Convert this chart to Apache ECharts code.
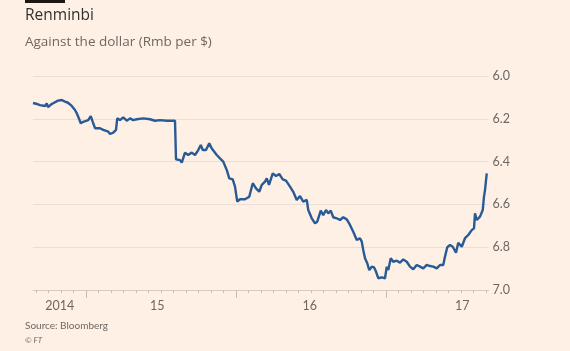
<!DOCTYPE html>
<html>
<head>
<meta charset="utf-8">
<script src="https://cdn.jsdelivr.net/npm/echarts@6/dist/echarts.min.js"></script>
<style>
	html, body { margin: 0; padding: 0; background: #fef0e5; }
	#echarts { width: 570px; height: 351px; }
</style>
</head>
<body>
<div id="echarts"></div>
<script>
// x = months since Jan 2014, y = Rmb per $
const monthPos = [7.76, 8.1, 8.32, 8.72, 8.86, 8.96, 9.26, 9.76, 10.06, 10.32, 10.56, 10.86, 11.12, 11.26, 11.46, 11.58, 11.78, 11.92,
	12.18, 12.38, 12.54, 12.72, 12.86, 13.12, 13.38, 13.78, 13.92, 14.18, 14.4, 14.5, 14.72, 14.98, 15.26, 15.52, 15.78, 16.06,
	16.58, 17.12, 17.52, 17.92, 18.46, 19.12, 19.2, 19.52, 19.66, 19.92, 20.18, 20.46, 20.72, 20.98, 21.18, 21.34, 21.6, 21.86,
	22.05, 22.46, 22.72, 22.98, 23.26, 23.46, 23.74, 23.92, 24.1, 24.32, 24.72, 25.06, 25.34, 25.6, 25.86, 26.06, 26.32, 26.46,
	26.64, 26.94, 27.2, 27.46, 27.74, 28.0, 28.32, 28.58, 28.86, 29.12, 29.38, 29.66, 29.78, 30.06, 30.32, 30.5, 30.78, 30.98,
	31.2, 31.38, 31.58, 31.78, 32.06, 32.32, 32.58, 32.86, 33.12, 33.38, 33.66, 33.92, 34.06, 34.18, 34.32, 34.5, 34.66, 34.86,
	35.04, 35.2, 35.38, 35.66, 35.92, 36.06, 36.18, 36.38, 36.58, 36.86, 37.12, 37.38, 37.66, 37.92, 38.18, 38.46, 38.72, 38.98,
	39.26, 39.52, 39.78, 40.06, 40.32, 40.58, 40.72, 40.9, 41.12, 41.34, 41.6, 41.78, 42.06, 42.32, 42.58, 42.86, 43.04, 43.12,
	43.26, 43.52, 43.74, 43.84, 43.92, 44.06];
const rmbPerUsd = [6.126, 6.131, 6.136, 6.14, 6.128, 6.145, 6.131, 6.115, 6.112, 6.12, 6.125, 6.14, 6.159, 6.174, 6.202, 6.221, 6.214, 6.221,
	6.206, 6.187, 6.214, 6.244, 6.252, 6.244, 6.252, 6.26, 6.271, 6.265, 6.252, 6.198, 6.206, 6.193, 6.209, 6.198, 6.206, 6.202,
	6.198, 6.202, 6.209, 6.206, 6.209, 6.209, 6.389, 6.393, 6.405, 6.358, 6.369, 6.358, 6.369, 6.346, 6.322, 6.346, 6.346, 6.314,
	6.338, 6.369, 6.385, 6.4, 6.439, 6.478, 6.483, 6.517, 6.587, 6.576, 6.576, 6.564, 6.501, 6.525, 6.541, 6.509, 6.494, 6.478,
	6.509, 6.455, 6.467, 6.458, 6.483, 6.489, 6.517, 6.541, 6.579, 6.561, 6.587, 6.579, 6.626, 6.665, 6.688, 6.681, 6.629, 6.65,
	6.626, 6.642, 6.629, 6.66, 6.665, 6.673, 6.66, 6.67, 6.696, 6.728, 6.766, 6.758, 6.774, 6.813, 6.852, 6.875, 6.907, 6.891,
	6.894, 6.914, 6.945, 6.941, 6.945, 6.891, 6.907, 6.852, 6.868, 6.863, 6.872, 6.857, 6.868, 6.891, 6.903, 6.883, 6.891, 6.899,
	6.883, 6.888, 6.891, 6.899, 6.883, 6.883, 6.844, 6.8, 6.79, 6.798, 6.826, 6.779, 6.798, 6.758, 6.743, 6.72, 6.712, 6.642,
	6.673, 6.657, 6.626, 6.564, 6.533, 6.455];

const yearLabels = ["2014", "15", "16", "17"];
const yearLabelPos = [9.9, 17.7, 29.9, 42.1];
const yearStarts = [12, 24, 36];
const monthTicks = [];
for (let m = 8; m <= 44; m++) monthTicks.push(m);

const GRID_LEFT = 33;
const GRID_RIGHT = 81.5;
const TEXT_GREY = "#6e6762";

const myChart = echarts.init(document.getElementById("echarts"), null, { renderer: "canvas" });

const option = {
	animation: false,
	backgroundColor: "#fef0e5",
	textStyle: { fontFamily: "Lato" },
	graphic: [
		{ type: "rect", left: 25, top: 0, shape: { width: 40, height: 3 }, style: { fill: "#1a1817" } },
		{ type: "text", left: 25, top: 8, style: { text: "Renminbi", fill: "#33302e", font: "15.5px 'Open Sans'" } },
		{ type: "text", left: 25, top: 35, style: { text: "Against the dollar (Rmb per $)", fill: TEXT_GREY, font: "13.5px 'Open Sans'" } },
		{ type: "text", left: 25, top: 321, style: { text: "Source: Bloomberg", fill: TEXT_GREY, font: "10px Lato" } },
		{ type: "text", left: 25, top: 336, style: { text: "© FT", fill: TEXT_GREY, font: "italic 8px Lato" } },
	],
	grid: { left: GRID_LEFT, right: GRID_RIGHT, top: 76, bottom: 61 },
	xAxis: [
		{
			type: "value",
			min: 7.76,
			max: 44.2,
			axisLine: { show: true, lineStyle: { color: "#d8ccc2", width: 1 } },
			axisTick: { show: true, customValues: monthTicks, length: 3, lineStyle: { color: "#c9bdb3" } },
			axisLabel: {
				customValues: yearLabelPos,
				margin: 9,
				fontSize: 12.5,
				color: TEXT_GREY,
				formatter: (v) => yearLabels[yearLabelPos.indexOf(v)] || "",
			},
			splitLine: { show: false },
		},
		{
			type: "value",
			position: "bottom",
			min: 7.76,
			max: 44.2,
			axisLine: { show: false },
			axisTick: { show: true, customValues: yearStarts, length: 8, lineStyle: { color: "#c9bdb3" } },
			axisLabel: { show: false },
			splitLine: { show: false },
		},
	],
	yAxis: {
		type: "value",
		position: "right",
		inverse: true,
		min: 6,
		max: 7,
		interval: 0.2,
		axisLine: { show: false },
		axisTick: { show: false },
		axisLabel: { margin: 4, fontSize: 12.5, color: TEXT_GREY, formatter: (v) => v.toFixed(1) },
		splitLine: { lineStyle: { color: "#ebdfd5", width: 1 } },
	},
	series: [
		{
			type: "line",
			xAxisIndex: 0,
			data: monthPos.map((m, i) => [m, rmbPerUsd[i]]),
			showSymbol: false,
			lineStyle: { color: "#285a96", width: 2.4 },
		},
	],
};
myChart.setOption(option);
</script>
</body>
</html>
